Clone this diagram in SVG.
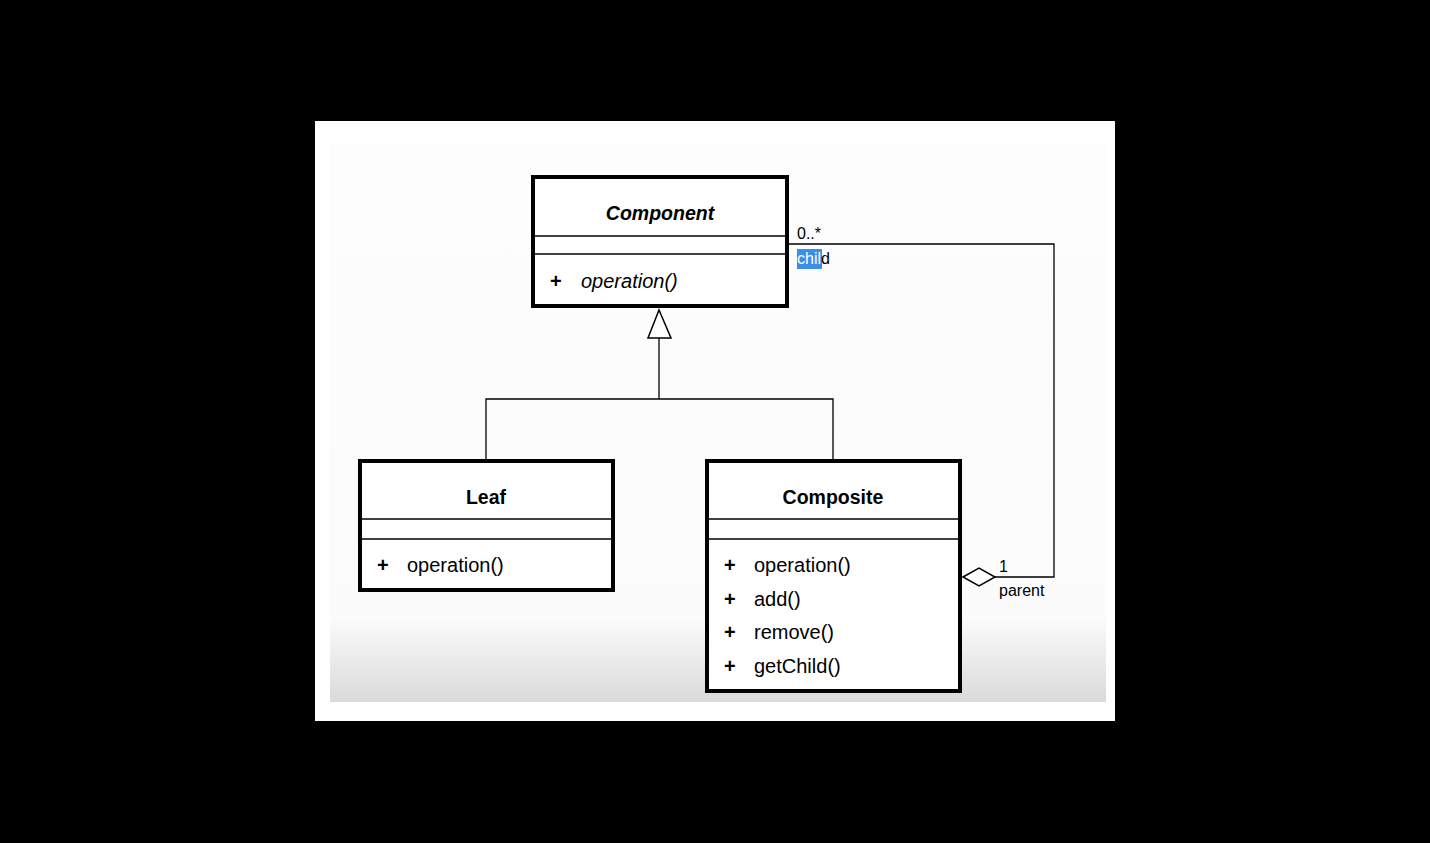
<svg xmlns="http://www.w3.org/2000/svg" width="1430" height="843" viewBox="0 0 1430 843">
<defs>
<linearGradient id="bg" x1="0" y1="0" x2="0" y2="1">
<stop offset="0" stop-color="#fdfdfd"/>
<stop offset="0.85" stop-color="#fbfbfb"/>
<stop offset="1" stop-color="#dadada"/>
</linearGradient>
<style>
.box{fill:#fff;stroke:#000;stroke-width:4}
.div{stroke:#000;stroke-width:1.5}
.ln{fill:none;stroke:#000;stroke-width:1.3}
text{font-family:"Liberation Sans",Arial,sans-serif;fill:#000}
.t{font-size:19.5px;text-anchor:middle;font-weight:bold}
.m{font-size:20px}
.p{font-size:20px;font-weight:bold}
.s{font-size:16px}
</style>
</defs>
<rect x="0" y="0" width="1430" height="843" fill="#000"/>
<rect x="315" y="121" width="800" height="600" fill="#fff"/>
<rect x="330" y="143" width="776" height="559" fill="url(#bg)"/>
<g id="connectors">
<polyline class="ln" points="659,338 659,399"/>
<polyline class="ln" points="486,461 486,399 833,399 833,461"/>
<polygon points="659,310 648,338 671,338" fill="#fff" stroke="#000" stroke-width="1.5"/>
<polyline class="ln" points="787,244 1054,244 1054,577 995,577"/>
<polygon points="963,577 979,568 995,577 979,586" fill="#fff" stroke="#000" stroke-width="1.5"/>
<text class="s" x="797" y="239">0..*</text>
<rect x="797" y="249" width="25" height="20" fill="#3d8ee6"/>
<text class="s" x="797" y="264"><tspan fill="#fff">chil</tspan>d</text>
<text class="s" x="999" y="572">1</text>
<text class="s" x="999" y="596">parent</text>
</g>
<g id="component">
<rect class="box" x="533" y="177" width="254" height="129"/>
<line class="div" x1="535" y1="236" x2="785" y2="236"/>
<line class="div" x1="535" y1="254" x2="785" y2="254"/>
<text class="t" x="660" y="220" font-style="italic">Component</text>
<text class="p" x="550" y="288">+</text>
<text class="m" x="581" y="288" font-style="italic">operation()</text>
</g>
<g id="leaf">
<rect class="box" x="360" y="461" width="253" height="129"/>
<line class="div" x1="362" y1="519" x2="611" y2="519"/>
<line class="div" x1="362" y1="539" x2="611" y2="539"/>
<text class="t" x="486" y="504">Leaf</text>
<text class="p" x="377" y="572">+</text>
<text class="m" x="407" y="572">operation()</text>
</g>
<g id="composite">
<rect class="box" x="707" y="461" width="253" height="230"/>
<line class="div" x1="709" y1="519" x2="958" y2="519"/>
<line class="div" x1="709" y1="539" x2="958" y2="539"/>
<text class="t" x="833" y="504">Composite</text>
<text class="p" x="724" y="572">+</text>
<text class="m" x="754" y="572">operation()</text>
<text class="p" x="724" y="606">+</text>
<text class="m" x="754" y="606">add()</text>
<text class="p" x="724" y="639">+</text>
<text class="m" x="754" y="639">remove()</text>
<text class="p" x="724" y="673">+</text>
<text class="m" x="754" y="673">getChild()</text>
</g>
</svg>
